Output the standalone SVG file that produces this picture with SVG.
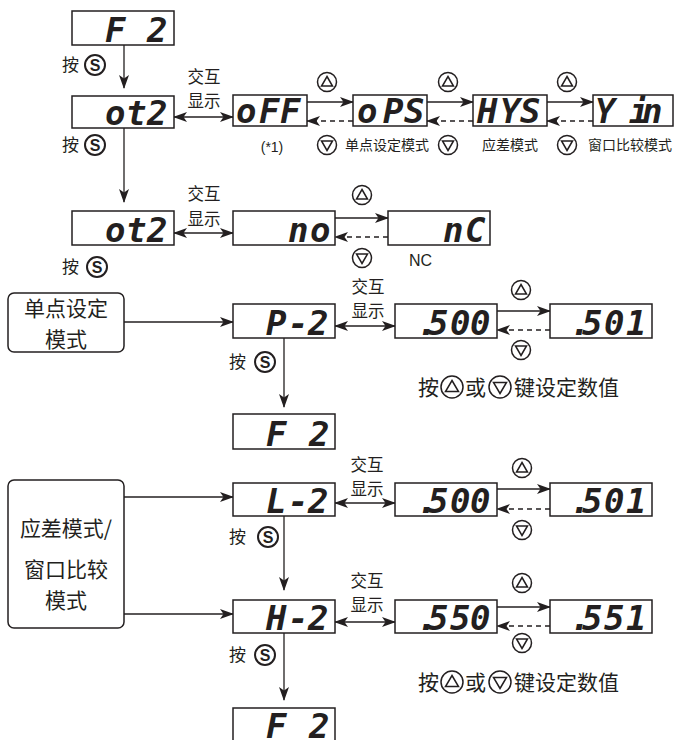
<svg xmlns="http://www.w3.org/2000/svg" width="675" height="740" viewBox="0 0 675 740">
<defs>
<style>
.box{fill:#fff;stroke:#231f20;stroke-width:1.5}
.seg{font-family:"DejaVu Sans Mono",monospace;font-weight:bold;font-style:italic;font-size:34px;fill:#231f20}
.cn{font-family:"Noto Sans CJK SC",sans-serif;fill:#231f20}
.lbl{font-size:16.5px;text-anchor:middle}
.an{font-size:17px}
.sm{font-size:14px}
.big{font-size:21px;text-anchor:middle}
.key{font-size:21px}
.lat{font-family:"Liberation Sans",Arial,sans-serif;fill:#231f20}
.sk{font-family:"Liberation Sans",Arial,sans-serif;font-weight:bold;font-size:16px;text-anchor:middle;fill:#231f20}
.ln{fill:none;stroke:#231f20;stroke-width:1.3}
.arr{marker-end:url(#ah)}
.dbl{marker-start:url(#ah);marker-end:url(#ah)}
.dash{stroke-dasharray:5 4}
.ic{fill:none;stroke:#231f20;stroke-width:1.5}
.sc{fill:none;stroke:#231f20;stroke-width:2}
</style>
<marker id="ah" viewBox="0 0 14 10" refX="13" refY="5" markerWidth="14" markerHeight="10" markerUnits="userSpaceOnUse" orient="auto-start-reverse">
<path d="M0,0 L14,5 L0,10 L3.5,5 Z" fill="#231f20"/>
</marker>
<g id="up"><circle r="9.5" class="ic"/><path d="M0,-5.5 L5.5,4 L-5.5,4 Z" class="ic"/></g>
<g id="dn"><circle r="9.5" class="ic"/><path d="M0,5.5 L5.5,-4 L-5.5,-4 Z" class="ic"/></g>
<g id="up2"><circle r="11" class="ic"/><path d="M0,-6.5 L6.5,4.5 L-6.5,4.5 Z" class="ic"/></g>
<g id="dn2"><circle r="11" class="ic"/><path d="M0,6.5 L6.5,-4.5 L-6.5,-4.5 Z" class="ic"/></g>
<circle id="scirc" r="10" class="sc"/>
</defs>
<rect width="675" height="740" fill="#fff"/>

<g id="connectors">
<line class="ln arr" x1="124" y1="45" x2="124" y2="88"/>
<line class="ln arr" x1="124" y1="128" x2="124" y2="202"/>
<line class="ln arr" x1="284" y1="338" x2="284" y2="407"/>
<line class="ln arr" x1="284" y1="516" x2="284" y2="590"/>
<line class="ln arr" x1="284" y1="633" x2="284" y2="700"/>
<line class="ln dbl" x1="174" y1="117" x2="233" y2="117"/>
<line class="ln dbl" x1="174" y1="233" x2="233" y2="233"/>
<line class="ln dbl" x1="335" y1="326" x2="395" y2="326"/>
<line class="ln dbl" x1="335" y1="503" x2="395" y2="503"/>
<line class="ln dbl" x1="335" y1="622" x2="395" y2="622"/>
<line class="ln arr" x1="307" y1="102" x2="353" y2="102"/>
<line class="ln arr" x1="427" y1="102" x2="473" y2="102"/>
<line class="ln arr" x1="547" y1="102" x2="593" y2="102"/>
<line class="ln arr" x1="335" y1="218" x2="388" y2="218"/>
<line class="ln arr" x1="497" y1="311" x2="550" y2="311"/>
<line class="ln arr" x1="497" y1="489" x2="550" y2="489"/>
<line class="ln arr" x1="497" y1="607" x2="550" y2="607"/>
<line class="ln arr dash" x1="353" y1="121" x2="307" y2="121"/>
<line class="ln arr dash" x1="473" y1="121" x2="427" y2="121"/>
<line class="ln arr dash" x1="593" y1="121" x2="547" y2="121"/>
<line class="ln arr dash" x1="388" y1="237" x2="335" y2="237"/>
<line class="ln arr dash" x1="550" y1="330" x2="497" y2="330"/>
<line class="ln arr dash" x1="550" y1="509" x2="497" y2="509"/>
<line class="ln arr dash" x1="550" y1="626" x2="497" y2="626"/>
<line class="ln arr" x1="124" y1="322" x2="233" y2="322"/>
<line class="ln arr" x1="124" y1="497" x2="233" y2="497"/>
<line class="ln arr" x1="124" y1="614" x2="233" y2="614"/>
</g>

<g id="d-f2-top"><rect class="box" x="72" y="11" width="102" height="34"/><text class="seg" x="105 126 147" y="42">F 2</text></g>
<g id="d-ot2-a"><rect class="box" x="72" y="96" width="102" height="32"/><text class="seg" x="105 126 147" y="125">ot2</text></g>
<g id="d-off"><rect class="box" x="233" y="95" width="74" height="31"/><text class="seg" x="236 259 280" y="123">oFF</text></g>
<g id="d-ops"><rect class="box" x="353" y="95" width="74" height="31"/><text class="seg" x="357 383 404" y="123">oPS</text></g>
<g id="d-hys"><rect class="box" x="473" y="95" width="74" height="31"/><text class="seg" x="477 500 520" y="123">HYS</text></g>
<g id="d-yin"><rect class="box" x="593" y="95" width="80" height="31"/><text class="seg" x="595 615 629 642" y="123">Y in</text></g>
<g id="d-ot2-b"><rect class="box" x="72" y="211" width="102" height="34"/><text class="seg" x="105 126 147" y="242">ot2</text></g>
<g id="d-no"><rect class="box" x="233" y="211" width="102" height="34"/><text class="seg" x="288 310" y="242">no</text></g>
<g id="d-nc"><rect class="box" x="388" y="211" width="102" height="34"/><text class="seg" x="443 465" y="242">nC</text></g>

<g id="d-p2"><rect class="box" x="233" y="304" width="102" height="34"/><text class="seg" x="266 288 308" y="335">P-2</text></g>
<g id="d-500a"><rect class="box" x="395" y="304" width="102" height="34"/><text class="seg" x="417 428 450 470" y="335">.500</text></g>
<g id="d-501a"><rect class="box" x="550" y="304" width="102" height="34"/><text class="seg" x="570 582 604 626" y="335">.501</text></g>
<g id="d-f2-mid"><rect class="box" x="233" y="414" width="102" height="35"/><text class="seg" x="266 287 309" y="446">F 2</text></g>

<g id="d-l2"><rect class="box" x="233" y="483" width="102" height="33"/><text class="seg" x="266 288 308" y="513">L-2</text></g>
<g id="d-500b"><rect class="box" x="395" y="483" width="102" height="33"/><text class="seg" x="417 428 450 470" y="513">.500</text></g>
<g id="d-501b"><rect class="box" x="550" y="483" width="102" height="33"/><text class="seg" x="570 582 604 626" y="513">.501</text></g>
<g id="d-h2"><rect class="box" x="233" y="600" width="102" height="33"/><text class="seg" x="266 288 308" y="630">H-2</text></g>
<g id="d-550"><rect class="box" x="395" y="600" width="102" height="33"/><text class="seg" x="417 428 450 470" y="630">.550</text></g>
<g id="d-551"><rect class="box" x="550" y="600" width="102" height="33"/><text class="seg" x="570 582 604 626" y="630">.551</text></g>
<g id="d-f2-bot"><rect class="box" x="233" y="708" width="102" height="40"/><text class="seg" x="266 287 309" y="738">F 2</text></g>

<g id="m-single"><rect class="box" x="8" y="293" width="116" height="59" rx="6"/><text class="cn big" x="66" y="316">单点设定</text><text class="cn big" x="66" y="347">模式</text></g>
<g id="m-hys-win"><rect class="box" x="8" y="480" width="116" height="148" rx="6"/><text class="cn big" x="66" y="536">应差模式/</text><text class="cn big" x="66" y="577">窗口比较</text><text class="cn big" x="66" y="608">模式</text></g>

<g id="lbl-press">
<text class="cn an" x="62" y="71">按</text><use href="#scirc" x="95" y="65"/><text class="sk" x="95" y="70.8">S</text>
<text class="cn an" x="62" y="151">按</text><use href="#scirc" x="95" y="145"/><text class="sk" x="95" y="150.8">S</text>
<text class="cn an" x="62" y="273">按</text><use href="#scirc" x="97" y="267"/><text class="sk" x="97" y="272.8">S</text>
<text class="cn an" x="229" y="368">按</text><use href="#scirc" x="265" y="362"/><text class="sk" x="265" y="367.8">S</text>
<text class="cn an" x="229" y="543">按</text><use href="#scirc" x="268" y="537"/><text class="sk" x="268" y="542.8">S</text>
<text class="cn an" x="229" y="661">按</text><use href="#scirc" x="265" y="655"/><text class="sk" x="265" y="660.8">S</text>
</g>

<g id="lbl-alt">
<text class="cn lbl" x="204" y="83">交互</text><text class="cn lbl" x="204" y="107">显示</text>
<text class="cn lbl" x="204" y="200">交互</text><text class="cn lbl" x="204" y="224.5">显示</text>
<text class="cn lbl" x="368" y="293">交互</text><text class="cn lbl" x="368" y="317">显示</text>
<text class="cn lbl" x="367" y="471">交互</text><text class="cn lbl" x="367" y="495">显示</text>
<text class="cn lbl" x="367" y="587">交互</text><text class="cn lbl" x="367" y="611">显示</text>
</g>

<g id="icons">
<use href="#up" x="327" y="82"/><use href="#up" x="448" y="82"/><use href="#up" x="567" y="82"/>
<use href="#dn" x="327" y="145"/><use href="#dn" x="448" y="145"/><use href="#dn" x="567" y="145"/>
<use href="#up" x="362" y="195"/><use href="#dn" x="362" y="258"/>
<use href="#up" x="521" y="290"/><use href="#dn" x="521" y="350"/>
<use href="#up" x="522" y="468"/><use href="#dn" x="522" y="530"/>
<use href="#up" x="522" y="583"/><use href="#dn" x="522" y="643"/>
</g>

<g id="lbl-modes">
<text class="cn sm" x="345" y="150">单点设定模式</text>
<text class="cn sm" x="482" y="150">应差模式</text>
<text class="cn sm" x="588" y="150">窗口比较模式</text>
<text class="lat" x="272" y="152" font-size="14" text-anchor="middle">(*1)</text>
<text class="lat" x="409" y="266" font-size="16">NC</text>
</g>

<g id="lbl-set1">
<text class="cn key" x="418" y="395">按</text><use href="#up2" x="452" y="387"/><text class="cn key" x="465" y="395">或</text><use href="#dn2" x="500" y="387"/><text class="cn key" x="514" y="395">键设定数值</text>
</g>
<g id="lbl-set2">
<text class="cn key" x="418" y="690">按</text><use href="#up2" x="452" y="682"/><text class="cn key" x="465" y="690">或</text><use href="#dn2" x="500" y="682"/><text class="cn key" x="514" y="690">键设定数值</text>
</g>
</svg>
